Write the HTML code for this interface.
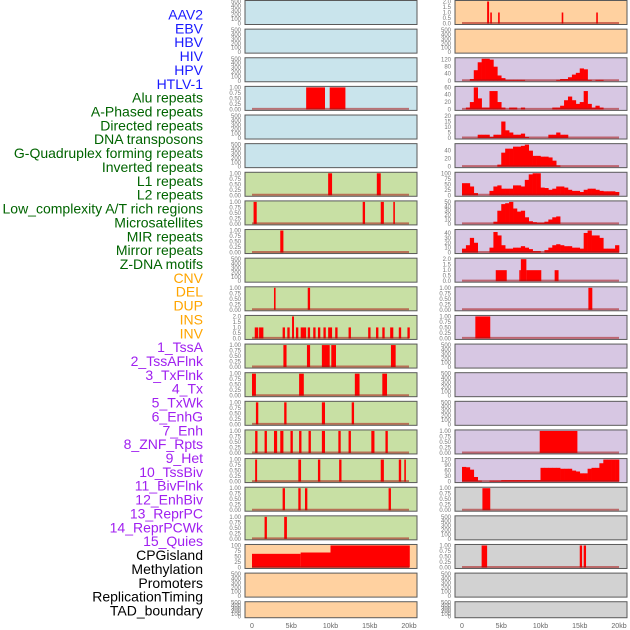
<!DOCTYPE html>
<html><head><meta charset="utf-8">
<style>
html,body{margin:0;padding:0;background:#fff;width:630px;height:630px;overflow:hidden}
svg{display:block}
</style></head>
<body>
<svg id="chart" width="630" height="630" xmlns="http://www.w3.org/2000/svg" font-family="Liberation Sans, sans-serif"></svg>
<script>
// ---------- track labels ----------
const trackLabels = ["AAV2","EBV","HBV","HIV","HPV","HTLV-1","Alu repeats","A-Phased repeats","Directed repeats","DNA transposons","G-Quadruplex forming repeats","Inverted repeats","L1 repeats","L2 repeats","Low_complexity A/T rich regions","Microsatellites","MIR repeats","Mirror repeats","Z-DNA motifs","CNV","DEL","DUP","INS","INV","1_TssA","2_TssAFlnk","3_TxFlnk","4_Tx","5_TxWk","6_EnhG","7_Enh","8_ZNF_Rpts","9_Het","10_TssBiv","11_BivFlnk","12_EnhBiv","13_ReprPC","14_ReprPCWk","15_Quies","CPGisland","Methylation","Promoters","ReplicationTiming","TAD_boundary"];
const labelGroups = [6,13,5,15,5];
const xTickValues = [0,5,10,15,20];
const xTickLabels = ["0","5kb","10kb","15kb","20kb"];

// ---------- tick sets ----------
const ticks500 = [0,100,200,300,400,500];
const ticks1 = [0,0.25,0.5,0.75,1.0];
const ticks2 = [0,0.5,1.0,1.5,2.0];

// ---------- left column data (segments: [startKb, endKb, value]) ----------
const L_alu = [[6.9,9.3,1],[9.9,11.9,1]];
const L_r7 = [[9.7,10.2,1],[15.9,16.4,1]];
const L_r8 = [[0.2,0.6,1],[14.1,14.4,1],[16.4,16.8,1],[18.0,18.2,1]];
const L_r9 = [[3.6,4.0,1]];
const L_r11 = [[2.8,3.0,1],[7.1,7.4,1]];
const L_r12 = [[0.35,0.8,1],[0.9,1.45,1],[3.9,4.2,1],[4.5,4.8,1],[5.1,5.35,2],[5.6,5.9,1],[6.2,6.9,1],[7.1,7.4,1],[7.8,8.1,1],[8.4,8.7,1],[9.1,9.4,1],[9.7,10.2,1],[10.6,10.9,1],[12.3,12.6,1],[14.8,15.1,1],[15.8,16.1,1],[16.6,16.9,1],[17.6,18.0,1],[18.7,19.0,1],[19.8,20.1,1]];
const L_r13 = [[4.0,4.4,1],[7.0,7.4,1],[8.9,9.9,1],[10.1,10.7,1],[17.7,18.3,1]];
const L_r14 = [[0.0,0.5,1],[6.0,6.6,1],[13.1,13.7,1],[16.6,17.2,1]];
const L_r15 = [[0.5,0.8,1],[4.1,4.4,1],[8.9,9.3,1],[12.7,13.0,1]];
const L_r16 = [[0.4,0.7,1],[1.6,1.9,1],[2.8,3.2,1],[3.6,4.0,1],[4.9,5.2,1],[6.0,6.3,1],[7.2,7.5,1],[8.9,9.3,1],[11.0,11.3,1],[12.3,12.6,1],[15.2,15.6,1],[17.0,17.3,1]];
const L_r17 = [[0.4,0.65,1],[5.9,6.25,1],[8.4,8.7,1],[11.1,11.4,1],[16.4,16.8,1],[18.7,19.0,1],[19.4,19.6,1]];
const L_r18 = [[3.9,4.2,1],[5.9,6.2,1],[6.75,7.05,1],[17.4,17.7,1]];
const L_r19 = [[1.6,1.9,1],[4.1,4.45,1]];
const L_cpg = [[0,6.2,62],[6.2,10,68],[10,20.1,100]];

// ---------- right column data ----------
const R_r1 = [[3.2,3.45,2],[3.6,3.8,1],[4.6,4.8,1],[12.7,12.9,1],[17.1,17.3,1]];
// profiles: values per 0.5kb bin (40 bins)
const R_r3 = [0,0,10,60,105,125,125,120,80,30,15,5,5,5,5,5,0,0,0,0,0,0,0,0,5,10,10,20,35,45,70,65,5,0,5,5,0,0,0,0];
const R_r4 = [0,5,20,60,30,5,5,50,50,20,5,0,5,5,0,5,0,0,0,0,0,0,0,5,5,10,25,35,25,15,20,50,15,5,10,5,0,0,0,0];
const R_r5 = [0,0,0,0,3,3,3,1,3,3,15,7,5,3,3,4,1,0,0,0,0,0,3,3,5,3,3,0,0,0,0,0,0,0,0,0,0,0,0,0];
const R_r6 = [0,0,0,0,0,0,0,0,0,5,35,45,45,50,50,52,55,40,27,27,25,25,23,15,3,0,0,0,0,0,0,0,0,0,0,0,0,0,0,0];
const R_r7 = [55,55,40,10,0,0,0,20,40,45,30,30,30,45,45,40,70,95,100,100,35,33,25,30,40,40,35,25,20,20,15,25,30,30,25,20,18,18,18,15];
const R_r8 = [0,0,0,0,0,0,0,0,5,30,45,47,50,35,28,30,15,6,4,3,3,5,10,15,17,0,0,0,0,0,0,0,0,0,0,0,0,0,0,0];
const R_r9 = [8,15,30,20,0,0,0,10,42,35,15,8,8,10,10,13,10,7,3,3,0,5,10,15,17,15,13,13,10,10,8,40,45,35,35,30,8,8,8,15];
const R_r10 = [[4.3,5.7,1],[7.3,7.5,1],[7.5,8.2,2],[8.2,10.1,1],[11.8,12.3,1]];
const R_r11 = [[16.1,16.6,1]];
const R_r12 = [[1.7,3.6,1]];
const R_r16 = [[9.9,14.7,1]];
const R_r17 = [80,78,65,25,5,0,0,5,5,5,8,8,8,8,8,8,8,8,8,8,75,75,75,75,75,70,70,70,60,55,45,45,70,75,75,100,120,120,120,120];
const R_r18 = [[2.6,3.6,1]];
const R_r20 = [[2.5,3.2,1],[15.0,15.3,1],[15.5,15.8,1]];

// ---------- panel specs ----------
const BLUE="#c9e4ec",GREEN="#c8e0a4",ORANGE="#ffd1a0",PURPLE="#d7c7e3",GRAY="#d2d2d2";
const panels = [
 {s:0,r:0,bg:BLUE,t:ticks500},{s:0,r:1,bg:BLUE,t:ticks500},{s:0,r:2,bg:BLUE,t:ticks500},
 {s:0,r:3,bg:BLUE,t:ticks1,seg:L_alu},{s:0,r:4,bg:BLUE,t:ticks500},{s:0,r:5,bg:BLUE,t:ticks500},
 {s:0,r:6,bg:GREEN,t:ticks1,seg:L_r7},{s:0,r:7,bg:GREEN,t:ticks1,seg:L_r8},{s:0,r:8,bg:GREEN,t:ticks1,seg:L_r9},
 {s:0,r:9,bg:GREEN,t:ticks500},{s:0,r:10,bg:GREEN,t:ticks1,seg:L_r11},{s:0,r:11,bg:GREEN,t:ticks2,seg:L_r12},
 {s:0,r:12,bg:GREEN,t:ticks1,seg:L_r13},{s:0,r:13,bg:GREEN,t:ticks1,seg:L_r14},{s:0,r:14,bg:GREEN,t:ticks1,seg:L_r15},
 {s:0,r:15,bg:GREEN,t:ticks1,seg:L_r16},{s:0,r:16,bg:GREEN,t:ticks1,seg:L_r17},{s:0,r:17,bg:GREEN,t:ticks1,seg:L_r18},
 {s:0,r:18,bg:GREEN,t:ticks1,seg:L_r19},{s:0,r:19,bg:ORANGE,t:[0,25,50,75,100],seg:L_cpg},
 {s:0,r:20,bg:ORANGE,t:ticks500},{s:0,r:21,bg:ORANGE,t:ticks500},
 {s:1,r:0,bg:ORANGE,t:ticks2,seg:R_r1},{s:1,r:1,bg:ORANGE,t:ticks500},
 {s:1,r:2,bg:PURPLE,t:[0,40,80,120],prof:R_r3,max:125},{s:1,r:3,bg:PURPLE,t:[0,20,40,60],prof:R_r4},
 {s:1,r:4,bg:PURPLE,t:[0,5,10,15,20],prof:R_r5},{s:1,r:5,bg:PURPLE,t:[0,20,40],prof:R_r6,max:55},
 {s:1,r:6,bg:PURPLE,t:[0,25,50,75,100],prof:R_r7},{s:1,r:7,bg:PURPLE,t:[0,10,20,30,40,50],prof:R_r8},
 {s:1,r:8,bg:PURPLE,t:[0,10,20,30,40],prof:R_r9,max:45},{s:1,r:9,bg:PURPLE,t:ticks2,seg:R_r10},
 {s:1,r:10,bg:PURPLE,t:ticks1,seg:R_r11},{s:1,r:11,bg:PURPLE,t:ticks1,seg:R_r12},
 {s:1,r:12,bg:PURPLE,t:ticks500},{s:1,r:13,bg:PURPLE,t:ticks500},{s:1,r:14,bg:PURPLE,t:ticks500},
 {s:1,r:15,bg:PURPLE,t:ticks1,seg:R_r16},{s:1,r:16,bg:PURPLE,t:[0,30,60,90,120],prof:R_r17},
 {s:1,r:17,bg:GRAY,t:ticks1,seg:R_r18},{s:1,r:18,bg:GRAY,t:ticks500},
 {s:1,r:19,bg:GRAY,t:ticks1,seg:R_r20},{s:1,r:20,bg:GRAY,t:ticks500},{s:1,r:21,bg:GRAY,t:ticks500}
];

const NS="http://www.w3.org/2000/svg";
const svg=document.getElementById('chart');
function mk(tag,attrs,parent){const e=document.createElementNS(NS,tag);for(const k in attrs)e.setAttribute(k,attrs[k]);(parent||svg).appendChild(e);return e;}

const colX=[245,455], colW=172, dataX0=[252,462], pxPerKb=7.85;
const rowPitch=28.63, rowH=24, lastRowH=16;
function xScale(side,kb){return dataX0[side]+kb*pxPerKb;}
function rowTop(r){return r*rowPitch+0.5;}
function rowHeight(r){return r===21?lastRowH:rowH;}
function yScale(top,h,max,v){return top+h-1-(v/max)*(h-2);}

const groupColors=["#1a1aff","#006400","#ffa500","#a020f0","#000000"];
let gi=0,gc=0;
trackLabels.forEach((t,i)=>{
  const col=groupColors[gi];
  const el=mk('text',{x:203,y:15+i*13.86+4.5,'text-anchor':'end','font-size':'14',fill:col});
  el.textContent=t;
  
  
  gc++; if(gc>=labelGroups[gi]){gi++;gc=0;}
});

panels.forEach(p=>{
  const top=rowTop(p.r), h=rowHeight(p.r), x=colX[p.s];
  const max=p.max||p.t[p.t.length-1];
  const g=mk('g',{});
  
  
  mk('rect',{x:x,y:top,width:colW,height:h,fill:p.bg},g);
  p.t.forEach(v=>{
    const ty=yScale(top,h,max,v);
    const tx=mk('text',{x:x-4,y:ty+2,'text-anchor':'end','font-size':'6',fill:'#777'},g);
    tx.textContent=(p.t===ticks1)?v.toFixed(2):(p.t===ticks2?v.toFixed(1):String(v));
    
    
  });
  const hasData=p.seg||p.prof;
  if(p.seg){
    p.seg.forEach(s=>{
      const x0=xScale(p.s,s[0]), x1=xScale(p.s,s[1]);
      const y=yScale(top,h,max,s[2]);
      const b=mk('rect',{x:x0,y:y,width:Math.max(1.6,x1-x0),height:top+h-1-y,fill:'#ff0000'},g);
      
      
    });
  }
  if(p.prof){
    p.prof.forEach((v,i)=>{
      if(v<=0)return;
      const x0=xScale(p.s,i*0.5), x1=xScale(p.s,(i+1)*0.5);
      const y=yScale(top,h,max,v);
      const b=mk('rect',{x:x0,y:y,width:x1-x0+0.3,height:top+h-1-y,fill:'#ff0000'},g);
      
      
    });
  }
  if(hasData){
    mk('line',{x1:xScale(p.s,0),x2:xScale(p.s,20),y1:top+h-1.5,y2:top+h-1.5,stroke:'rgba(170,20,20,0.55)','stroke-width':2},g);
  }
  mk('rect',{x:x,y:top,width:colW,height:h,fill:'none',stroke:'#5a5a5a','stroke-width':1},g);
});

[0,1].forEach(side=>{
  xTickValues.forEach((v,i)=>{
    const t=mk('text',{x:xScale(side,v),y:628,'text-anchor':'middle','font-size':'7',fill:'#666'});
    t.textContent=xTickLabels[i];
    
    
  });
});
</script>
</body></html>
